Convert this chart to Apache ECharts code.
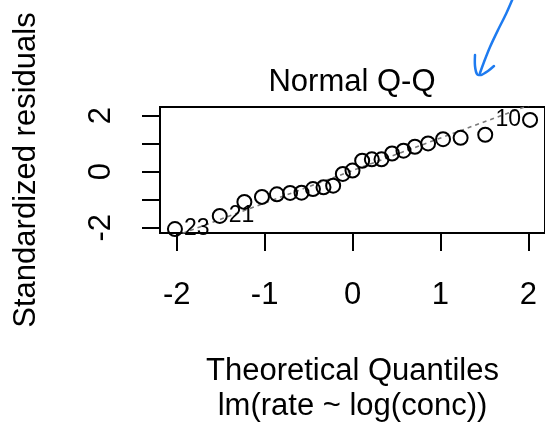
<!DOCTYPE html>
<html>
<head>
<meta charset="utf-8">
<script src="https://cdn.jsdelivr.net/npm/echarts@6/dist/echarts.min.js"></script>
<style>
html,body{margin:0;padding:0;background:#fff;}
#chart{width:545px;height:429px;}
</style>
</head>
<body>
<div id="chart"></div>
<script>
// Data
const theoQuantiles = [-2.02,-1.51,-1.23,-1.03,-0.86,-0.71,-0.58,-0.45,-0.33,-0.22,-0.11,0,0.11,0.22,0.33,0.45,0.58,0.71,0.86,1.03,1.23,1.51,2.02];
const stdResiduals = [-2.05,-1.58,-1.08,-0.90,-0.81,-0.76,-0.75,-0.62,-0.56,-0.50,-0.08,0.04,0.39,0.44,0.44,0.65,0.75,0.89,1.01,1.16,1.21,1.32,1.85];
const labelIndex = [0, 1, 22];
const labelText = ['23', '21', '10'];
const xTicks = [-2, -1, 0, 1, 2];
const yTicks = [-2, -1, 0, 1, 2];
const yTickLabels = [-2, 0, 2];
const qqSlope = 1.16;
const qqIntercept = 0.04;
const xRange = [-2.19, 2.19];
const yRange = [-2.19, 2.31];

const FONT = '"Liberation Sans", Arial, sans-serif';

const pointData = theoQuantiles.map((x, i) => {
  const item = { value: [x, stdResiduals[i]] };
  const k = labelIndex.indexOf(i);
  if (k >= 0) {
    item.label = {
      show: true,
      formatter: labelText[k],
      position: x < 0 ? 'right' : 'left',
      distance: 1,
      fontSize: 23,
      fontFamily: FONT,
      color: '#000'
    };
  }
  return item;
});

const lineData = xRange.map(x => [x, qqIntercept + qqSlope * x]);

const chart = echarts.init(document.getElementById('chart'), null, { renderer: 'canvas' });
chart.setOption({
  backgroundColor: '#fff',
  animation: false,
  title: {
    text: 'Normal Q-Q',
    left: 347,
    top: 62,
    textAlign: 'center',
    textStyle: { fontSize: 31, fontWeight: 'normal', color: '#000', fontFamily: FONT }
  },
  grid: {
    left: 160, top: 107, right: -2, height: 126,
    show: true, borderColor: '#000', borderWidth: 2, backgroundColor: 'transparent'
  },
  xAxis: {
    type: 'value',
    min: xRange[0], max: xRange[1],
    name: 'Theoretical Quantiles\nlm(rate ~ log(conc))',
    nameLocation: 'middle',
    nameGap: 121,
    nameTextStyle: { fontSize: 31, color: '#000', fontFamily: FONT, lineHeight: 35 },
    axisLine: { show: false, onZero: false },
    splitLine: { show: false },
    axisTick: { show: true, inside: false, length: 18, customValues: xTicks, lineStyle: { color: '#000', width: 2 } },
    axisLabel: { customValues: xTicks, fontSize: 31, color: '#000', fontFamily: FONT, margin: 47 }
  },
  yAxis: {
    type: 'value',
    min: yRange[0], max: yRange[1],
    name: 'Standardized residuals',
    nameLocation: 'middle',
    nameGap: 118,
    nameTextStyle: { fontSize: 31, color: '#000', fontFamily: FONT },
    axisLine: { show: false, onZero: false },
    splitLine: { show: false },
    axisTick: { show: true, inside: false, length: 18, customValues: yTicks, lineStyle: { color: '#000', width: 2 } },
    axisLabel: { customValues: yTickLabels, rotate: 90, fontSize: 31, color: '#000', fontFamily: FONT, margin: 43 }
  },
  graphic: [{
    type: 'polyline',
    shape: { points: [[513, -2], [506, 14], [498, 30], [490, 47], [484, 62], [480, 73]], smooth: 0.3 },
    style: { stroke: '#1E7BF0', lineWidth: 2.5, fill: null, lineCap: 'round', lineJoin: 'round' }
  }, {
    type: 'polyline',
    shape: { points: [[475, 55], [475, 66], [477, 74], [481, 75], [488, 71], [494, 66]], smooth: 0.3 },
    style: { stroke: '#1E7BF0', lineWidth: 2.5, fill: null, lineCap: 'round', lineJoin: 'round' }
  }],
  series: [{
    type: 'line',
    data: lineData,
    showSymbol: false,
    symbol: 'none',
    clip: true,
    lineStyle: { color: '#7a7a7a', width: 1.6, type: [4, 4] },
    z: 1
  }, {
    type: 'scatter',
    data: pointData,
    symbol: 'circle',
    symbolSize: 14,
    clip: false,
    itemStyle: { color: 'rgba(0,0,0,0)', borderColor: '#000', borderWidth: 2, opacity: 1 },
    emphasis: { disabled: true },
    z: 2
  }]
});
</script>
</body>
</html>
